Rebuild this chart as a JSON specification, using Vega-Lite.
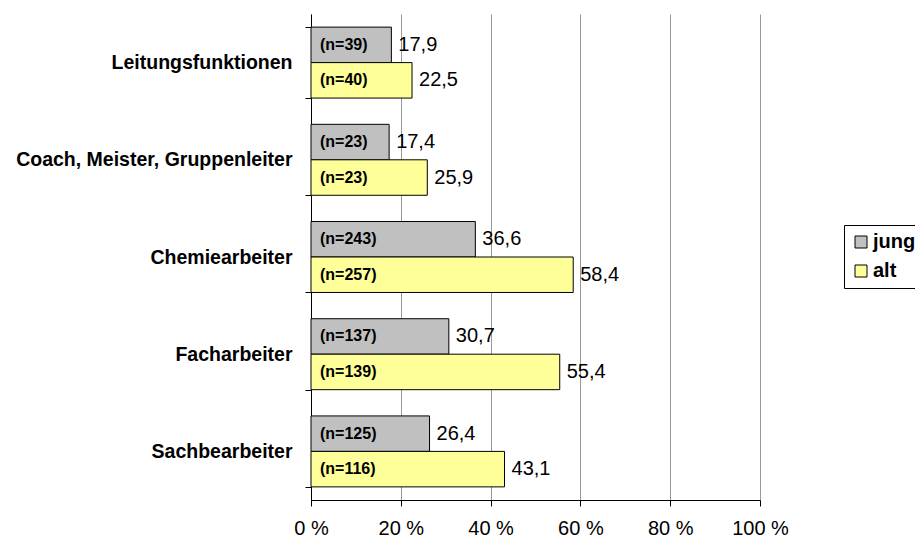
{
  "$schema": "https://vega.github.io/schema/vega-lite/v6.json",
  "width": 449,
  "height": 486,
  "autosize": {"type": "none"},
  "padding": {"left": 311, "top": 14, "right": 155, "bottom": 39},
  "background": "white",
  "config": {
    "locale": {"number": {"decimal": ",", "thousands": ".", "grouping": [3], "currency": ["", " €"]}},
    "view": {"stroke": null},
    "font": "Liberation Sans"
  },
  "data": {
    "values": [
      {"kategorie": "Leitungsfunktionen", "gruppe": "jung", "wert": 17.9, "n": "(n=39)"},
      {"kategorie": "Leitungsfunktionen", "gruppe": "alt", "wert": 22.5, "n": "(n=40)"},
      {"kategorie": "Coach, Meister, Gruppenleiter", "gruppe": "jung", "wert": 17.4, "n": "(n=23)"},
      {"kategorie": "Coach, Meister, Gruppenleiter", "gruppe": "alt", "wert": 25.9, "n": "(n=23)"},
      {"kategorie": "Chemiearbeiter", "gruppe": "jung", "wert": 36.6, "n": "(n=243)"},
      {"kategorie": "Chemiearbeiter", "gruppe": "alt", "wert": 58.4, "n": "(n=257)"},
      {"kategorie": "Facharbeiter", "gruppe": "jung", "wert": 30.7, "n": "(n=137)"},
      {"kategorie": "Facharbeiter", "gruppe": "alt", "wert": 55.4, "n": "(n=139)"},
      {"kategorie": "Sachbearbeiter", "gruppe": "jung", "wert": 26.4, "n": "(n=125)"},
      {"kategorie": "Sachbearbeiter", "gruppe": "alt", "wert": 43.1, "n": "(n=116)"}
    ]
  },
  "encoding": {
    "y": {
      "field": "kategorie",
      "type": "nominal",
      "sort": ["Leitungsfunktionen", "Coach, Meister, Gruppenleiter", "Chemiearbeiter", "Facharbeiter", "Sachbearbeiter"],
      "scale": {"paddingInner": 0.27, "paddingOuter": 0.135},
      "axis": {
        "title": null,
        "tickBand": "extent",
        "domainColor": "black",
        "tickColor": "black",
        "tickSize": 6,
        "labelFontSize": 19.5,
        "labelFontWeight": "bold",
        "labelColor": "black",
        "labelPadding": 13,
        "labelLimit": 400
      }
    },
    "yOffset": {"field": "gruppe", "type": "nominal", "sort": ["jung", "alt"], "scale": {"domain": ["jung", "alt"]}},
    "x": {
      "field": "wert",
      "type": "quantitative",
      "scale": {"domain": [0, 100], "nice": false},
      "axis": {
        "title": null,
        "values": [0, 20, 40, 60, 80, 100],
        "labelExpr": "datum.value + ' %'",
        "labelFlush": false,
        "grid": true,
        "gridColor": "#999999",
        "domainColor": "black",
        "tickColor": "black",
        "tickSize": 6,
        "labelFontSize": 20,
        "labelColor": "black",
        "labelPadding": 12
      }
    }
  },
  "layer": [
    {
      "mark": {"type": "bar", "stroke": "black", "strokeWidth": 1},
      "encoding": {
        "color": {
          "field": "gruppe",
          "type": "nominal",
          "scale": {"domain": ["jung", "alt"], "range": ["#C0C0C0", "#FFFF99"]},
          "legend": {
            "title": null,
            "orient": "none",
            "legendX": 533,
            "legendY": 211,
            "strokeColor": "black",
            "fillColor": "white",
            "padding": 7,
            "symbolType": "square",
            "symbolSize": 144,
            "symbolStrokeColor": "black",
            "symbolStrokeWidth": 1,
            "labelFontSize": 20,
            "labelFontWeight": "bold",
            "labelColor": "black",
            "rowPadding": 9,
            "labelOffset": 2
          }
        }
      }
    },
    {
      "mark": {"type": "text", "align": "left", "baseline": "middle", "dx": 7, "fontSize": 20, "color": "black"},
      "encoding": {
        "text": {"field": "wert", "type": "quantitative", "format": ".1f"}
      }
    },
    {
      "mark": {"type": "text", "align": "left", "baseline": "middle", "dx": 9, "fontSize": 16, "fontWeight": "bold", "color": "black"},
      "encoding": {
        "x": {"datum": 0},
        "text": {"field": "n", "type": "nominal"}
      }
    }
  ]
}
